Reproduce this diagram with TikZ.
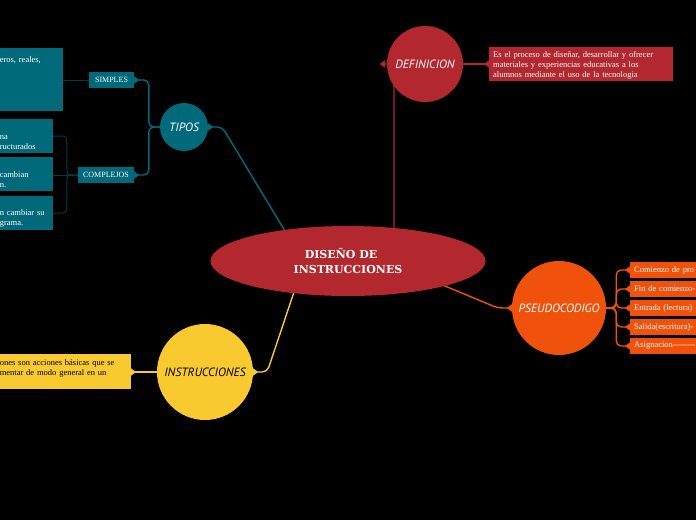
\documentclass[tikz,border=0pt]{standalone}
\usepackage{fontspec}
\setmainfont{Liberation Serif}
\newfontfamily\topicfont{PT Sans}
\newfontfamily\centerfont{DejaVu Serif}
\usetikzlibrary{arrows.meta,shapes.geometric,backgrounds,positioning}
\definecolor{mapred}{RGB}{178,40,46}
\definecolor{mapteal}{RGB}{0,106,122}
\definecolor{mapdark}{RGB}{0,58,68}
\definecolor{maporange}{RGB}{240,82,12}
\definecolor{mapyellow}{RGB}{248,202,48}
\tikzset{
 topic/.style={circle,inner sep=0pt,text=white,font=\topicfont\itshape\fontsize{12}{14}\selectfont},
 leaf/.style={rectangle,inner xsep=4pt,inner ysep=0pt,align=left,text=white,font=\fontsize{8.5}{10}\selectfont},
 tag/.style={rectangle,inner sep=0pt,text=white,font=\fontsize{8}{10}\selectfont},
 branch/.style={line width=1.4pt,rounded corners=5pt},
 twig/.style={line width=1pt,rounded corners=4pt,draw=mapdark},
 flare/.style={-{Triangle[reversed,length=5pt,width=7pt]}},
 pointer/.style={-{Triangle[length=5pt,width=7pt]}}
}
\begin{document}
\begin{tikzpicture}[x=1pt,y=-1pt]
 \useasboundingbox (0,0) rectangle (696,520);
 \clip (0,0) rectangle (696,520);
 \node[ellipse,fill=mapred,minimum width=275pt,minimum height=70pt,inner sep=0pt,align=center,text=white,
  font=\centerfont\bfseries\fontsize{11}{15}\selectfont] (main) at (348,261) {DISEÑO DE\hspace*{14pt}\\INSTRUCCIONES};
 \node[topic,fill=mapred,minimum size=76pt] (defi) at (425,64) {DEFINICION};
 \node[topic,fill=mapteal,minimum size=48pt] (tipos) at (184,127) {TIPOS};
 \node[topic,fill=maporange,minimum size=94pt] (pseudo) at (559,308) {PSEUDOCODIGO};
 \node[topic,fill=mapyellow,minimum size=96pt,text=black] (instr) at (205,372) {INSTRUCCIONES};
 \node[leaf,fill=mapred,anchor=west,text width=176pt,minimum height=34pt] (defbox) at (489,64)
  {\rule{0pt}{9pt}Es el proceso de diseñar, desarrollar y ofrecer\\materiales y experiencias educativas a los\\alumnos mediante el uso de la tecnologia};
 \node[tag,fill=mapteal,minimum width=45pt,minimum height=16pt] (simples) at (111.5,80) {SIMPLES};
 \node[tag,fill=mapteal,minimum width=56pt,minimum height=16pt] (complejos) at (106,175) {COMPLEJOS};
 \node[leaf,fill=mapteal,anchor=east,text width=59pt,minimum height=63pt] (enteros) at (63,79.5)
  {\rule{0pt}{8pt}eros, reales,\\\strut\\\strut\\\strut\\\strut};
 \node[leaf,fill=mapteal,anchor=east,text width=49pt,minimum height=34pt] (estruct) at (53,136)
  {\strut\\na\\ructurados};
 \node[leaf,fill=mapteal,anchor=east,text width=49pt,minimum height=34pt] (cambian) at (53,174)
  {\strut\\cambian\\n.};
 \node[leaf,fill=mapteal,anchor=east,text width=49pt,minimum height=34pt] (programa) at (53,213)
  {\strut\\n cambiar su\\grama.};
 \node[leaf,fill=mapyellow,text=black,anchor=east,text width=127pt,minimum height=35pt] (ibox) at (131,371.5)
  {\rule{0pt}{11pt}ones son acciones básicas que se\\mentar de modo general en un\\\strut};
 \foreach \txt [count=\i] in {Comienzo de pro,Fin de comienzo-,Entrada (lectura),Salida(escritura)-,Asignacion-{}-{}-{}-{}-{}-{}-{}-}
  \node[leaf,fill=maporange,anchor=west,text width=80pt,minimum height=16pt] (p\i) at (630,{251+19*\i}) {\txt};
 \begin{pgfonlayer}{background}
  \fill[black] (0,0) rectangle (696,520);
  \draw[branch,mapred,pointer] ([xshift=46pt,yshift=10pt]main.center) |- ([xshift=-7pt]defi.west);
  \draw[branch,mapred,flare] (defi) -- (defbox);
  \draw[branch,mapteal,flare] ([xshift=-60pt,yshift=25pt]main.center) -- ([xshift=14pt]tipos.east) -- (tipos.east);
  \draw[branch,mapteal,flare] (tipos.west) -- ++(-11,0) |- (simples.east);
  \draw[branch,mapteal,flare] (tipos.west) -- ++(-11,0) |- (complejos.east);
  \draw[twig] (simples.west) -- (simples.west -| enteros.east);
  \draw[twig] (complejos.west) -- ++(-11,0) |- (estruct.east);
  \draw[twig] (complejos.west) -- (complejos.west -| cambian.east);
  \draw[twig] (complejos.west) -- ++(-11,0) |- (programa.east);
  \draw[branch,maporange,flare] ([xshift=85pt,yshift=-20pt]main.center) -- ([xshift=-14pt]pseudo.west) -- (pseudo.west);
  \foreach \i in {1,...,5}
   \draw[branch,maporange,flare] (pseudo.east) -- ++(10,0) |- (p\i.west);
  \draw[branch,mapyellow,flare] ([xshift=-52pt,yshift=-25pt]main.center) -- ([xshift=14pt]instr.east) -- (instr.east);
  \draw[branch,mapyellow,flare] (instr.west) -- (instr.west -| ibox.east);
 \end{pgfonlayer}
\end{tikzpicture}
\end{document}
